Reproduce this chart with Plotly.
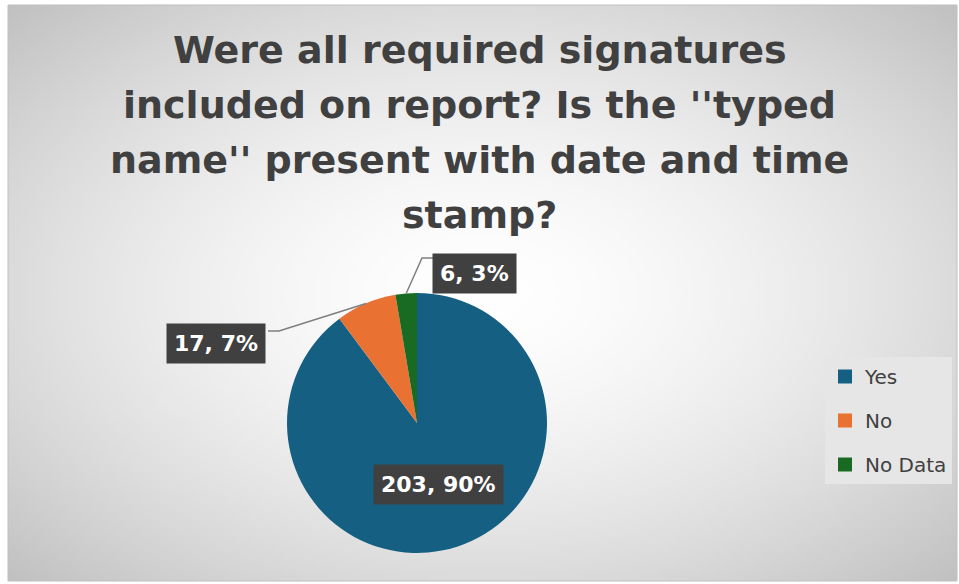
import base64
import math
import struct
import zlib

import plotly.graph_objects as go

# data
labels = ["Yes", "No", "No Data"]
counts = [203, 17, 6]
pct_labels = ["90%", "7%", "3%"]
colors = ["#156082", "#E97132", "#196B24"]
title_lines = [
    "Were all required signatures",
    "included on report? Is the ''typed",
    "name'' present with date and time",
    "stamp?",
]

W, H = 959, 584
FONT = "DejaVu Sans"
# pie geometry in pixels (centre and radius)
CX, CY, R = 417, 423, 130
# data-label box centres and leader-line elbows, in pixels
label_pos = {"Yes": (438, 484), "No": (216, 343), "No Data": (474, 273)}
leader_start = {"No": [(268, 331), (279, 331)], "No Data": [(433, 258), (422, 258)]}
title_y = [50, 105, 160, 215]


def px(x):
    return x / W


def py(y):
    return 1 - y / H


def gradient_png(w, h):
    # radial grey gradient for the chart area
    raw = bytearray()
    for j in range(h):
        raw.append(0)
        for i in range(w):
            dx = (i / (w - 1) - 0.5) / 0.5
            dy = (j / (h - 1) - 0.5) / 0.5
            d = min(1.0, math.hypot(dx, dy) / 1.414)
            raw.append(int(255 - 62 * d ** 1.6))

    def chunk(tag, data):
        c = struct.pack(">I", len(data)) + tag + data
        return c + struct.pack(">I", zlib.crc32(tag + data) & 0xFFFFFFFF)

    png = b"\x89PNG\r\n\x1a\n"
    png += chunk(b"IHDR", struct.pack(">IIBBBBB", w, h, 8, 0, 0, 0, 0))
    png += chunk(b"IDAT", zlib.compress(bytes(raw), 9))
    png += chunk(b"IEND", b"")
    return "data:image/png;base64," + base64.b64encode(png).decode()


fig = go.Figure()

fig.add_trace(go.Pie(
    labels=labels, values=counts, sort=False, direction="clockwise", rotation=0,
    marker=dict(colors=colors, line=dict(color="white", width=0)),
    textinfo="none", hoverinfo="label+value+percent", showlegend=False,
    domain=dict(x=[px(CX - R), px(CX + R)], y=[py(CY + R), py(CY - R)]),
))

# legend entries (one per slice)
for name, col in zip(labels, colors):
    fig.add_trace(go.Scatter(
        x=[None], y=[None], mode="markers", name=name, legendgroup=name,
        marker=dict(symbol="square", size=14, color=col),
    ))

total = sum(counts)
shapes = [dict(type="rect", xref="paper", yref="paper", x0=px(8), x1=px(957), y0=py(581), y1=py(5),
               line=dict(color="#bfbfbf", width=1), layer="above")]
annotations = []
for line, ty in zip(title_lines, title_y):
    annotations.append(dict(
        x=0.5, y=py(ty), xref="paper", yref="paper", xanchor="center", yanchor="middle",
        text=f"<b>{line}</b>", showarrow=False,
        font=dict(family=FONT, size=38, color="#404040"),
    ))

cum = 0
for name, val, pct in zip(labels, counts, pct_labels):
    mid = (cum + val / 2) / total * 2 * math.pi
    cum += val
    ex, ey = CX + R * math.sin(mid), CY - R * math.cos(mid)
    bx, by = label_pos[name]
    annotations.append(dict(
        x=px(bx), y=py(by), xref="paper", yref="paper", xanchor="center", yanchor="middle",
        text=f"<b>{val}, {pct}</b>",
        showarrow=False, font=dict(family=FONT, size=22, color="white"),
        bgcolor="#404040", borderpad=7,
    ))
    if name in leader_start:
        pts = leader_start[name] + [(ex, ey)]
        path = "M " + " L ".join(f"{px(a)},{py(b)}" for a, b in pts)
        shapes.append(dict(type="path", xref="paper", yref="paper", path=path,
                           line=dict(color="#7f7f7f", width=1.5)))

fig.update_layout(
    width=W, height=H,
    margin=dict(l=0, r=0, t=0, b=0),
    paper_bgcolor="white", plot_bgcolor="rgba(0,0,0,0)",
    xaxis=dict(visible=False), yaxis=dict(visible=False),
    legend=dict(x=px(825), y=py(357), xanchor="left", yanchor="top",
                bgcolor="#e6e6e6", tracegroupgap=15,
                font=dict(family=FONT, size=20, color="#404040")),
    images=[dict(source=gradient_png(240, 146), xref="paper", yref="paper",
                 x=px(8), y=py(5), sizex=949 / W, sizey=576 / H,
                 sizing="stretch", layer="below")],
    shapes=shapes, annotations=annotations,
)

fig.write_html("out.html", config={"displayModeBar": False},
               post_script="document.body.style.margin='0';")
